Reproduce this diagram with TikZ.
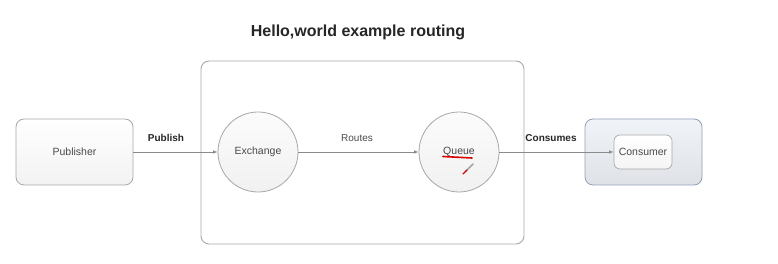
\documentclass[tikz,border=0pt]{standalone}
\usepackage{fontspec}
\setmainfont{Liberation Sans}
\usetikzlibrary{positioning,shapes,arrows}

\definecolor{edgegray}{HTML}{8A8A8A}
\definecolor{boxline}{HTML}{A8A8A8}
\definecolor{consline}{HTML}{8FA2BC}
\definecolor{consfill}{HTML}{F0F3F8}
\definecolor{textgray}{HTML}{4A4A4A}

\begin{document}
\begin{tikzpicture}[
			      x=1pt, y=1pt,
			      every node/.style={font=\fontsize{10.5}{12}\selectfont, text=textgray},
			      link/.style={draw=edgegray, -latex, line width=0.6pt},
			      rbox/.style={
					      draw=boxline,
					      rounded corners=8pt,
					      line width=0.8pt,
					      top color=white,
					      bottom color=gray!10,
					      minimum width=117pt,
					      minimum height=66pt
				      },
			      station/.style={
					      circle,
					      draw=boxline,
					      line width=0.8pt,
					      top color=gray!3,
					      bottom color=gray!11,
					      minimum size=80pt
				      },
			      lbl/.style={font=\fontsize{10}{12}\selectfont},
			      blbl/.style={font=\bfseries\fontsize{10}{12}\selectfont, text=black!85}
		      ]
		      \useasboundingbox[fill=white] (0,0) rectangle (778,264);

		      % title and the broker frame
		      \node[font=\bfseries\fontsize{16}{18}\selectfont, text=black!85] (title) at (358,232) {Hello,world example routing};
		      \draw[draw=boxline, line width=0.9pt, rounded corners=8pt] (201,203) rectangle (524,20);

		      % the four stations
		      \node[rbox] (publisher) at (74.5,112) {Publisher};
		      \node[station] (exchange) at (258,112) {Exchange};
		      \node[station] (queue) at (459,112) {Queue};
		      \node[rbox, draw=consline, top color=consfill, bottom color=consfill!85!gray] (consumerbox) at (643.5,112) {};
		      \node[draw=boxline, rounded corners=6pt, line width=0.7pt, top color=white, bottom color=gray!8,
			      minimum width=58pt, minimum height=34pt, inner sep=1pt] (consumer) at (643,112) {Consumer};

		      % connectors
		      \draw[link] (publisher) -- (exchange);
		      \draw[link] (exchange) -- (queue);
		      \draw[link] (queue) -- (consumer);
		      \node[blbl] (publish) at (166,126) {Publish};
		      \node[lbl] (routes) at (357,126) {Routes};
		      \node[blbl] (consumes) at (551,126) {Consumes};

		      % red mark under the queue
		      \draw[red!85!black, line width=1.6pt, line cap=round] (443,107.5) -- (472,106);
		      \draw[gray!70, line width=1.6pt, line cap=round] (466,93) -- (473,100);
		      \draw[red!85!black, line width=1.2pt, line cap=round] (463,90) -- (467,94);
	      \end{tikzpicture}
\end{document}
